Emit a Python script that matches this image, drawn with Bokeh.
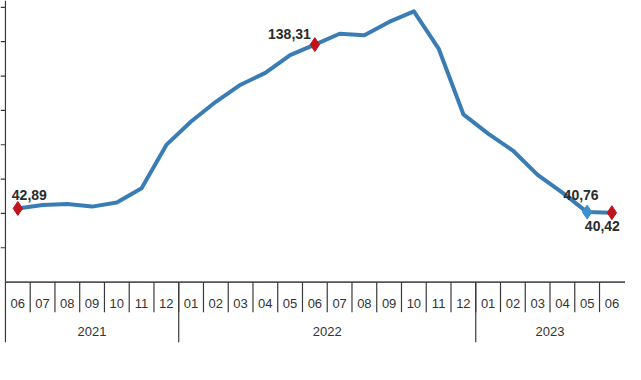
from bokeh.plotting import figure
from bokeh.models import Range1d, ColumnDataSource
from bokeh.core.properties import value
from bokeh.embed import file_html
from bokeh.resources import INLINE

# ---- data ----
months = ["06", "07", "08", "09", "10", "11", "12",
          "01", "02", "03", "04", "05", "06", "07", "08", "09", "10", "11", "12",
          "01", "02", "03", "04", "05", "06"]
years = ["2021", "2022", "2023"]
months_per_year = [7, 12, 6]
ppi = [42.89, 44.92, 45.52, 43.96, 46.31, 54.62, 79.89,
       93.53, 105.01, 114.97, 121.82, 132.16, 138.31, 144.61, 143.75, 151.50, 157.69, 136.02, 97.72,
       86.46, 76.61, 62.43, 52.11, 40.76, 40.42]
y_ticks = [20, 40, 60, 80, 100, 120, 140, 160]
red_idx = [0, 12, 24]
blue_idx = [23]
label_idx = [0, 12, 23, 24]

FONT = value("'Liberation Sans Narrow', 'Liberation Sans', Arial, sans-serif")
REG = value("'Liberation Sans', Arial, sans-serif")

x = list(range(len(ppi)))
n = len(ppi)

p = figure(width=625, height=364, output_backend="svg", toolbar_location=None,
           x_range=Range1d(-0.7, n - 0.45), y_range=Range1d(-48, 164),
           min_border_left=0, min_border_right=0, min_border_top=0, min_border_bottom=0)
p.xaxis.visible = False
p.yaxis.visible = False
p.xgrid.grid_line_color = None
p.ygrid.grid_line_color = None
p.outline_line_color = None
p.background_fill_color = "white"
p.border_fill_color = "white"

AX = "#3a3a3a"
left = -0.5
right = n - 0.5

# y axis line and ticks
p.segment(x0=[left], y0=[0], x1=[left], y1=[164], line_color=AX, line_width=1.2)
p.segment(x0=[left - 0.2] * len(y_ticks), y0=y_ticks, x1=[left] * len(y_ticks), y1=y_ticks,
          line_color=AX, line_width=1.2)

# x axis line
p.segment(x0=[left], y0=[0], x1=[right + 1], y1=[0], line_color="#555555", line_width=1.8)

# month separators and labels
sep_x = [i + 0.5 for i in range(n - 1)]
p.segment(x0=sep_x, y0=[0] * len(sep_x), x1=sep_x, y1=[-17.5] * len(sep_x),
          line_color=AX, line_width=1.2)
p.text(x=x, y=[-12.3] * n, text=months, text_align="center", text_baseline="middle",
       text_font=REG, text_font_size="13px", text_color="#333333")

# year separators and labels
bounds = [left]
acc = 0
for c in months_per_year[:-1]:
    acc += c
    bounds.append(acc - 0.5)
p.segment(x0=bounds, y0=[0] * len(bounds), x1=bounds, y1=[-35] * len(bounds),
          line_color=AX, line_width=1.2)
centers = []
start = 0
for c in months_per_year:
    centers.append(start + (c - 1) / 2)
    start += c
p.text(x=centers, y=[-28.5] * len(years), text=years, text_align="center",
       text_baseline="middle", text_font=REG, text_font_size="13px", text_color="#333333")

# main line
p.line(x=x, y=ppi, line_color="#3a7db5", line_width=4, line_join="round", line_cap="round")

# markers
p.scatter(x=[x[i] for i in blue_idx], y=[ppi[i] for i in blue_idx], marker="diamond",
          size=14, fill_color="#3c8fd0", line_color="#3c8fd0")
p.scatter(x=[x[i] for i in red_idx], y=[ppi[i] for i in red_idx], marker="diamond",
          size=14, fill_color="#c0141c", line_color="#c0141c")

# data labels
lab_text = [f"{ppi[i]:.2f}".replace(".", ",") for i in label_idx]
lab_src = ColumnDataSource(dict(
    x=[x[i] for i in label_idx],
    y=[ppi[i] for i in label_idx],
    text=lab_text,
    align=["left", "right", "center", "right"],
    baseline=["bottom", "bottom", "bottom", "top"],
    xo=[-6, -4, -6, 8],
    yo=[-8, -6, -12, 8],
))
p.text(x="x", y="y", text="text", source=lab_src, text_align="align",
       text_baseline="baseline", x_offset="xo", y_offset="yo",
       text_font=FONT, text_font_style="bold", text_font_size="14px", text_color="#2b2b2b")

open("out.html", "w").write(file_html(p, INLINE))
